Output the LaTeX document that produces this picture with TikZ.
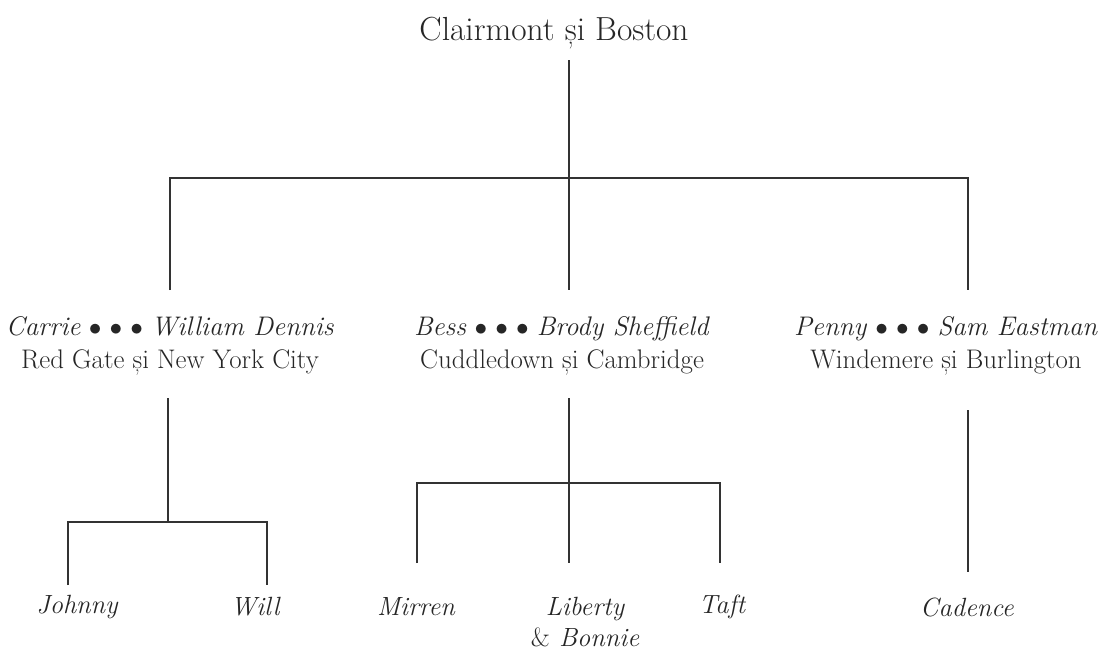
\documentclass[tikz,border=0pt]{standalone}
\usepackage{fontspec}
\tikzset{
    person/.style={font=\fontsize{15}{18}\selectfont\itshape, text=black!85, inner sep=0pt},
    couple/.style={font=\fontsize{15.3}{18.5}\selectfont, text=black!85, align=center, inner sep=0pt},
    tree/.style={draw=black!80, line width=1.1pt}
}
\begin{document}
\begin{tikzpicture}[x=0.02cm, y=-0.02cm]
    \useasboundingbox (0,0) rectangle (1104,664);
    % top of the family
    \node[couple, font=\fontsize{19}{22}\selectfont] (root) at (554,33) {Clairmont și Boston};
    \coordinate (rootfoot) at (569,60);
    \coordinate (split) at (569,178);
    \coordinate (lefthead) at (170,290);
    \coordinate (midhead) at (569,290);
    \coordinate (righthead) at (968,290);
    \draw[tree] (rootfoot) -- (split);
    \draw[tree] (lefthead) |- (split) -| (righthead);
    \draw[tree] (split) -- (midhead);
    % the three couples
    \node[couple] (carrie) at (170,346) {\textit{Carrie} $\bullet$ $\bullet$ $\bullet$ \textit{William Dennis}\\Red Gate și New York City};
    \node[couple] (bess) at (562,346) {\textit{Bess} $\bullet$ $\bullet$ $\bullet$ \textit{Brody Sheffield}\\Cuddledown și Cambridge};
    \node[couple] (penny) at (946,346) {\textit{Penny} $\bullet$ $\bullet$ $\bullet$ \textit{Sam Eastman}\\Windemere și Burlington};
    % children of Carrie
    \coordinate (carriefoot) at (168,398);
    \coordinate (carriesplit) at (168,522);
    \coordinate (johnnyhead) at (68,585);
    \coordinate (willhead) at (267,585);
    \draw[tree] (carriefoot) -- (carriesplit);
    \draw[tree] (johnnyhead) |- (carriesplit) -| (willhead);
    \node[person] (johnny) at (77,607) {Johnny};
    \node[person] (will) at (255,607) {Will};
    % children of Bess
    \coordinate (bessfoot) at (569,398);
    \coordinate (besssplit) at (569,483);
    \coordinate (mirrenhead) at (417,563);
    \coordinate (libertyhead) at (569,563);
    \coordinate (tafthead) at (720,563);
    \draw[tree] (bessfoot) -- (besssplit);
    \draw[tree] (mirrenhead) |- (besssplit) -| (tafthead);
    \draw[tree] (besssplit) -- (libertyhead);
    \node[person] (mirren) at (416,607) {Mirren};
    \node[person, align=center] (liberty) at (585,622) {Liberty\\\textup{\&} Bonnie};
    \node[person] (taft) at (722,607) {Taft};
    % child of Penny
    \coordinate (pennyfoot) at (968,410);
    \coordinate (cadencehead) at (968,572);
    \draw[tree] (pennyfoot) -- (cadencehead);
    \node[person] (cadence) at (967,607) {Cadence};
\end{tikzpicture}
\end{document}
